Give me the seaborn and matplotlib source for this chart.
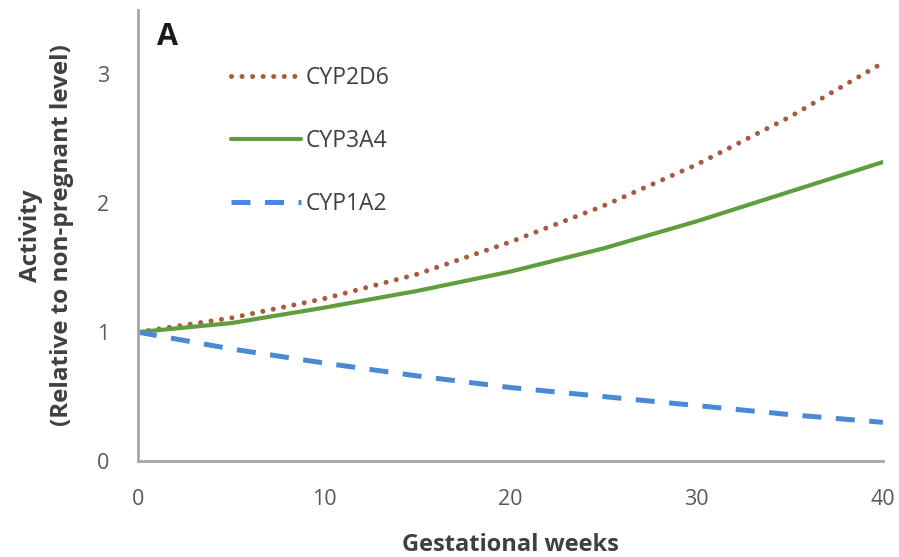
import matplotlib
matplotlib.use("Agg")
import matplotlib.pyplot as plt
import seaborn as sns
import pandas as pd

weeks = [0, 5, 10, 15, 20, 25, 30, 35, 40]
cyp2d6 = [1.00, 1.11, 1.26, 1.45, 1.70, 1.98, 2.30, 2.67, 3.09]
cyp3a4 = [1.00, 1.07, 1.19, 1.32, 1.47, 1.65, 1.86, 2.09, 2.32]
cyp1a2 = [1.00, 0.87, 0.76, 0.66, 0.57, 0.50, 0.43, 0.36, 0.30]
series_names = ["CYP2D6", "CYP3A4", "CYP1A2"]
x_ticks = [0, 10, 20, 30, 40]
y_ticks = [0, 1, 2, 3]

sns.set_theme(style="white")
plt.rcParams['font.family'] = ['Open Sans', 'DejaVu Sans']

fig = plt.figure(figsize=(8.99, 5.57), dpi=100)
ax = fig.add_axes([0.1535, 0.1724, 0.8285, 0.8096])

colors = {"CYP2D6": "#A85A3E", "CYP3A4": "#5E9E3E", "CYP1A2": "#4A8AD4"}
data = {"CYP2D6": cyp2d6, "CYP3A4": cyp3a4, "CYP1A2": cyp1a2}

for name in series_names:
    df = pd.DataFrame({"week": weeks, "val": data[name]})
    sns.lineplot(data=df, x="week", y="val", ax=ax, color=colors[name], label=name)

lines = ax.get_lines()
lines[0].set_linewidth(3.6)
lines[0].set_linestyle((0, (0.01, 2.1)))
lines[0].set_dash_capstyle("round")
lines[1].set_linewidth(3.0)
lines[2].set_linewidth(3.6)
lines[2].set_linestyle((0, (3.8, 2.9)))

ax.set_xlim(0, 40)
ax.set_ylim(0, 3.5)
ax.set_xticks(x_ticks)
ax.set_yticks(y_ticks)
ax.tick_params(axis="x", length=0, labelsize=15.5, colors="#595959", pad=20)
ax.tick_params(axis="y", length=0, labelsize=15.5, colors="#595959", pad=21)
for s in ["top", "right"]:
    ax.spines[s].set_visible(False)
for s in ["left", "bottom"]:
    ax.spines[s].set_color("#A6A6A6")
    ax.spines[s].set_linewidth(2)

ax.set_xlabel("Gestational weeks", fontsize=17, fontweight="bold", color="#404040", labelpad=17)
ax.set_ylabel("Activity\n(Relative to non-pregnant level)", fontsize=17.5, fontweight="bold",
              color="#404040", labelpad=16, linespacing=1.4)

ax.text(0.026, 0.94, "A", transform=ax.transAxes, fontsize=22, fontweight="bold",
        color="#1a1a1a", va="center", ha="left")

leg = ax.legend(loc="upper left", bbox_to_anchor=(0.11, 0.902), frameon=False, borderpad=0,
                fontsize=16.5, handlelength=3.05, labelspacing=1.71, handletextpad=0.2)
for t in leg.get_texts():
    t.set_color("#404040")

fig.savefig("out.png", dpi=100)
